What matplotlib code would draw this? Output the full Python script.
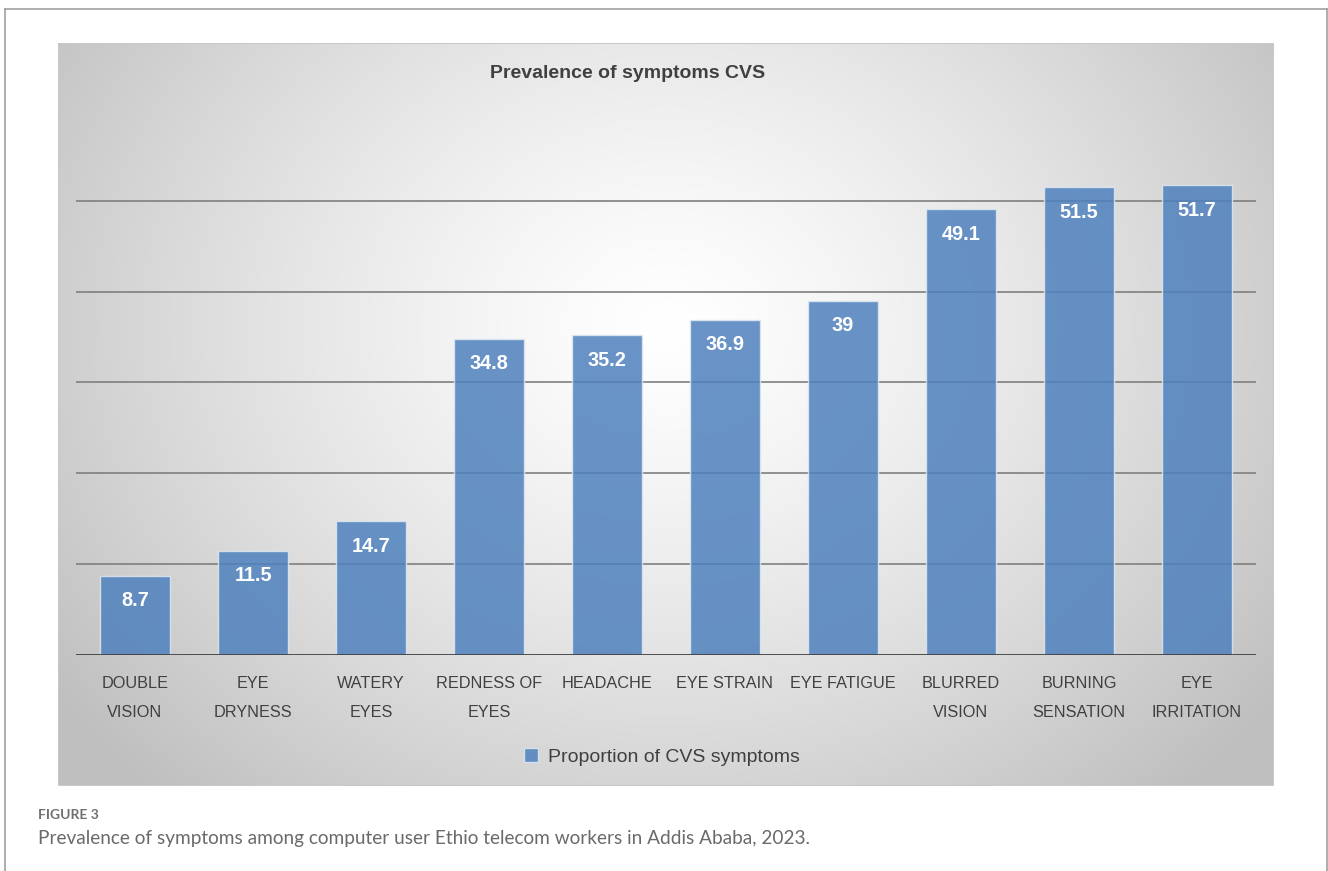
import numpy as np
import matplotlib
matplotlib.use("Agg")
from matplotlib import pyplot as plt
from matplotlib.patches import Rectangle
from matplotlib.lines import Line2D

# data
categories = ["DOUBLE\nVISION", "EYE\nDRYNESS", "WATERY\nEYES", "REDNESS OF\nEYES",
              "HEADACHE", "EYE STRAIN", "EYE FATIGUE", "BLURRED\nVISION",
              "BURNING\nSENSATION", "EYE\nIRRITATION"]
values = [8.7, 11.5, 14.7, 34.8, 35.2, 36.9, 39, 49.1, 51.5, 51.7]
gridlines = [10, 20, 30, 40, 50]

W, H = 1328, 871
plt.rcParams['font.family'] = ['Liberation Sans', 'DejaVu Sans']
fig = plt.figure(figsize=(W / 100, H / 100), dpi=100)

def px(x0, y0, x1, y1):
    # pixel box (top-left origin) -> figure fraction
    return [x0 / W, 1 - y1 / H, (x1 - x0) / W, (y1 - y0) / H]

# outer frame of the figure panel
fig.add_artist(Line2D([4.5 / W, 4.5 / W], [0, 1 - 9.5 / H], color="#a0a0a0", lw=1.2))
fig.add_artist(Line2D([4.5 / W, 1326.5 / W], [1 - 9.5 / H, 1 - 9.5 / H], color="#a0a0a0", lw=1.2))
fig.add_artist(Line2D([1326.5 / W, 1326.5 / W], [0, 1 - 9.5 / H], color="#a0a0a0", lw=1.2))

# chart area with radial grey gradient
bg = fig.add_axes(px(58, 43, 1274, 786))
ny, nx = 300, 500
yy, xx = np.mgrid[0:ny, 0:nx]
cx, cy = nx * 0.5, ny * 0.38
r = np.sqrt(((xx - cx) / (nx * 0.62)) ** 2 + ((yy - cy) / (ny * 0.85)) ** 2)
shade = 1.0 - 0.25 * np.clip(r, 0, 1.0) ** 1.3
bg.imshow(np.dstack([shade] * 3), aspect="auto", extent=[0, 1, 0, 1], origin="upper")
bg.set_xlim(0, 1)
bg.set_ylim(0, 1)
bg.axis("off")
bg.add_patch(Rectangle((0, 0), 1, 1, fill=False, edgecolor="#c8c8c8", lw=1.5,
                       transform=bg.transAxes))

ax = fig.add_axes(px(76, 110, 1256, 655))
ax.patch.set_alpha(0)
x = np.arange(len(values))
ax.set_xlim(-0.5, len(values) - 0.5)
ax.set_ylim(0, 60)

for g in gridlines:
    ax.axhline(g, color="#7f7f7f", lw=1.2, zorder=1)
ax.axhline(0, color="#404040", lw=2.0, zorder=4)

bars = ax.bar(x, values, width=0.6, color="#4f81bd", alpha=0.85,
              edgecolor="#dfe8f3", linewidth=1.0, zorder=3,
              label="Proportion of CVS symptoms")
for xi, v in zip(x, values):
    lab = f"{v:g}"
    ax.annotate(lab, (xi, v), xytext=(0, -18), textcoords="offset points",
                ha="center", va="center", color="white", fontsize=14.3,
                fontweight="bold", zorder=5)

ax.set_xticks(x)
ax.set_xticklabels(categories, fontsize=11.7, color="#404040", linespacing=2.15,
                   va="top")
ax.tick_params(axis="x", length=0, pad=15)
ax.set_yticks([])
for s in ax.spines.values():
    s.set_visible(False)

fig.text(628 / W, 1 - 73 / H, "Prevalence of symptoms CVS", ha="center", va="center",
         fontsize=14, fontweight="bold", color="#404040")

fig.legend(handles=[bars], labels=["Proportion of CVS symptoms"], loc="center",
           bbox_to_anchor=(662 / W, 1 - 757 / H), frameon=False, fontsize=14,
           handlelength=0.7, handleheight=0.7, handletextpad=0.5, labelcolor="#404040")

fig.text(38 / W, 1 - 815 / H, "FIGURE 3", ha="left", va="center", fontsize=10,
         color="#707070", family=["Lato", "DejaVu Sans"], fontweight="bold")
fig.text(38 / W, 1 - 838 / H,
         "Prevalence of symptoms among computer user Ethio telecom workers in Addis Ababa, 2023.",
         ha="left", va="center", fontsize=13.7, color="#6a6a6a",
         family=["Lato", "DejaVu Sans"])

fig.savefig("out.png", dpi=100)
